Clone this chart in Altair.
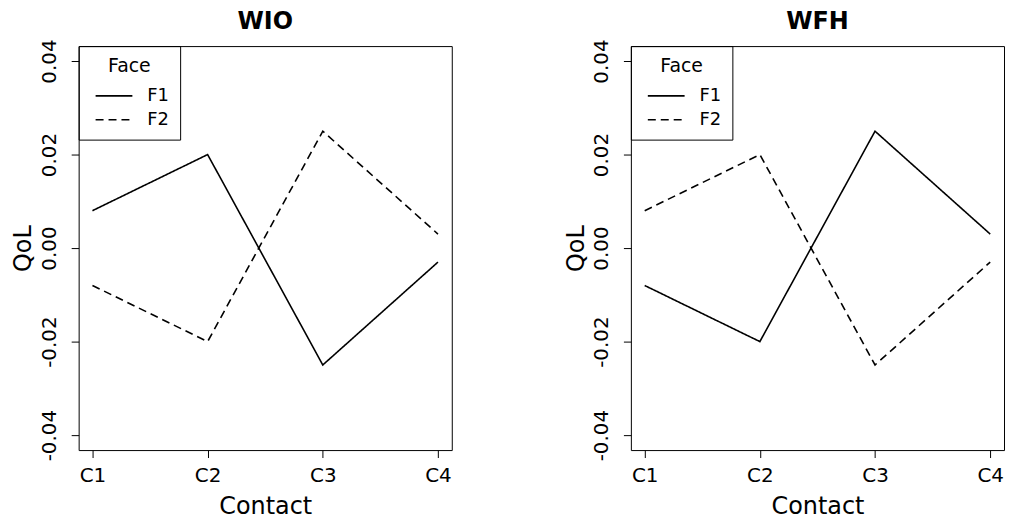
import json
import altair as alt
import pandas as pd

# ---- data ----
contacts = ["C1", "C2", "C3", "C4"]
contact_pos = [1, 2, 3, 4]
faces = ["F1", "F2"]
panels = ["WIO", "WFH"]
wio_f1 = [0.008, 0.020, -0.025, -0.003]
wio_f2 = [-0.008, -0.020, 0.025, 0.003]
wfh_f1 = [-0.008, -0.020, 0.025, 0.003]
wfh_f2 = [0.008, 0.020, -0.025, -0.003]
y_ticks = [-0.04, -0.02, 0.0, 0.02, 0.04]

FONT = "DejaVu Sans"


def frame(f1, f2):
    rows = []
    for face, vals in zip(faces, (f1, f2)):
        for c, p, v in zip(contacts, contact_pos, vals):
            rows.append({"Contact": c, "pos": p, "Face": face, "QoL": v})
    return pd.DataFrame(rows)


x_label_expr = json.dumps(contacts) + "[datum.value - 1]"
y_label_expr = "replace(format(datum.value, '.2f'), '\u2212', '-')"


def panel(name, f1, f2):
    df = frame(f1, f2)
    return (
        alt.Chart(df)
        .mark_line(color="black", strokeWidth=1.6)
        .encode(
            x=alt.X(
                "pos:Q",
                scale=alt.Scale(domain=[0.88, 4.12], nice=False, zero=False),
                axis=alt.Axis(
                    values=contact_pos,
                    labelExpr=x_label_expr,
                    title="Contact",
                    labelPadding=8,
                    titlePadding=9,
                ),
            ),
            y=alt.Y(
                "QoL:Q",
                scale=alt.Scale(domain=[-0.0432, 0.0432], nice=False, zero=False),
                axis=alt.Axis(
                    values=y_ticks,
                    labelExpr=y_label_expr,
                    labelAngle=270,
                    labelAlign="center",
                    labelBaseline="alphabetic",
                    labelPadding=16,
                    title="QoL",
                    titleAngle=270,
                    titleBaseline="alphabetic",
                    titleX=-48,
                ),
            ),
            strokeDash=alt.StrokeDash(
                "Face:N",
                scale=alt.Scale(domain=faces, range=[[1, 0], [8, 5]]),
                legend=alt.Legend(
                    title="Face",
                    orient="none",
                    legendX=0,
                    legendY=0,
                    strokeColor="black",
                    padding=11,
                    titleAnchor="middle",
                    titleFontSize=19,
                    titleFontWeight="normal",
                    titlePadding=7,
                    labelFontSize=18,
                    labelOffset=32,
                    rowPadding=2,
                    symbolType="M-0.58,0H2.5",
                    symbolSize=576,
                    symbolStrokeWidth=1.6,
                    symbolStrokeColor="black",
                ),
            ),
        )
        .properties(
            width=375,
            height=406,
            title=alt.TitleParams(
                name, fontSize=24, fontWeight="bold", font=FONT, anchor="middle",
                baseline="top", offset=5
            ),
        )
    )


chart = (
    alt.hconcat(panel(panels[0], wio_f1, wio_f2), panel(panels[1], wfh_f1, wfh_f2), spacing=111)
    .resolve_scale(strokeDash="independent")
    .resolve_legend(strokeDash="independent")
    .properties(padding={"left": 3, "top": 0, "right": 0, "bottom": 0})
    .configure(font=FONT)
    .configure_view(stroke="black", strokeWidth=1)
    .configure_axis(
        grid=False,
        domain=False,
        tickColor="black",
        tickSize=7.5,
        tickWidth=1,
        labelColor="black",
        titleColor="black",
        labelFont=FONT,
        titleFont=FONT,
        labelFontSize=20,
        titleFontSize=24,
        titleFontWeight="normal",
    )
    .configure_legend(labelColor="black", titleColor="black", labelFont=FONT, titleFont=FONT)
)

chart.save("out.html", embed_options={"renderer": "svg", "actions": False})
